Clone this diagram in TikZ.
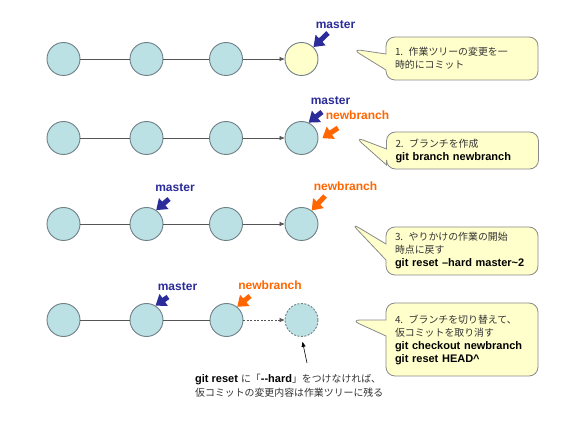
\documentclass[tikz,border=0pt]{standalone}
\usepackage{fontspec}
\setmainfont{Liberation Sans}
\newfontfamily\jp[Scale=0.9]{Noto Sans CJK JP}
\usetikzlibrary{arrows.meta, shapes.callouts}
\definecolor{commitfill}{HTML}{BCE1E4}
\definecolor{commitline}{HTML}{6E7F86}
\definecolor{tmpfill}{HTML}{FFFFCC}
\definecolor{linkgray}{HTML}{555555}
\definecolor{notefill}{HTML}{FFFFCC}
\definecolor{notegray}{HTML}{8A8A8A}
\definecolor{mastercol}{HTML}{2B2B99}
\definecolor{branchcol}{HTML}{FF6600}
\definecolor{jptext}{HTML}{333333}
\tikzset{
x=1pt, y=-1pt, % work in pixels of the reference, y down
commit/.style={circle, draw=commitline, fill=commitfill, line width=0.9pt, minimum size=33pt, inner sep=0pt}, % one commit
tmpcommit/.style={commit, fill=tmpfill}, % the temporary commit
gone/.style={commit, dash pattern=on 2pt off 1.5pt}, % commit that was reset away
link/.style={draw=linkgray, line width=0.8pt},
head/.style={link, -{Triangle[length=5pt,width=4pt]}},
reflabel/.style={font=\bfseries\fontsize{12}{14}\selectfont, inner sep=1pt},
master/.style={reflabel, text=mastercol},
branch/.style={reflabel, text=branchcol},
ptr/.style={line width=5pt, -{Triangle[length=10pt,width=14pt]}}, % fat arrow of a ref
note/.style={rectangle callout, draw=notegray, fill=notefill, rounded corners=9pt, line width=0.8pt,
  minimum width=152pt, text width=134pt, inner xsep=9pt, align=left,
  font=\fontsize{11}{13}\selectfont, callout pointer width=16pt},
}
\begin{document}
\begin{tikzpicture}
\path[use as bounding box, fill=white] (0,0) rectangle (566,425);

% row 1
\node[commit] (c11) at (63.5,59) {};
\node[commit] (c12) at (146.5,59) {};
\node[commit] (c13) at (226,59) {};
\node[tmpcommit] (c14) at (301.5,59) {};
\draw[link] (c11) -- (c12) -- (c13);
\draw[head] (c13) -- (c14);
\node[master] (m1) at (335.5,25) {master};
\coordinate (t1m) at (328,33);
\draw[ptr, mastercol] (t1m) -- (c14.45);
\coordinate (p1) at (352,49);
\node[note, minimum height=43pt, callout absolute pointer={(p1)}] (n1) at (462,58.5)
  {{\jp\color{jptext}1. 作業ツリーの変更を一}\\{\jp\color{jptext}時的にコミット}};

% row 2
\node[commit] (c21) at (63.5,138) {};
\node[commit] (c22) at (146.5,138) {};
\node[commit] (c23) at (226,138) {};
\node[commit] (c24) at (301.5,138) {};
\draw[link] (c21) -- (c22) -- (c23);
\draw[head] (c23) -- (c24);
\node[master] (m2) at (330.5,101) {master};
\node[branch] (b2) at (357.5,115) {newbranch};
\coordinate (t2m) at (322,112);
\coordinate (t2b) at (338,128);
\draw[ptr, mastercol] (t2m) -- (c24.65);
\draw[ptr, branchcol, shorten >=5pt] (t2b) -- (c24.-10);
\coordinate (p2) at (355,137);
\node[note, minimum height=37pt, callout absolute pointer={(p2)}] (n2) at (462.5,150.5)
  {{\jp\color{jptext}2. ブランチを作成}\\\textbf{git branch newbranch}};

% row 3
\node[commit] (c31) at (63.5,224) {};
\node[commit] (c32) at (146.5,224) {};
\node[commit] (c33) at (226,224) {};
\node[commit] (c34) at (301.5,224) {};
\draw[link] (c31) -- (c32) -- (c33);
\draw[head] (c33) -- (c34);
\node[master] (m3) at (175,188) {master};
\node[branch] (b3) at (345.5,186) {newbranch};
\coordinate (t3m) at (169,199);
\coordinate (t3b) at (325,196);
\draw[ptr, mastercol] (t3m) -- (c32.55);
\draw[ptr, branchcol] (t3b) -- (c34.53);
\coordinate (p3) at (351,223);
\node[note, minimum height=48pt, callout absolute pointer={(p3)}] (n3) at (462,251)
  {{\jp\color{jptext}3. やりかけの作業の開始}\\{\jp\color{jptext}時点に戻す}\\\mbox{\textbf{git reset --hard master\textasciitilde2}}};

% row 4
\node[commit] (c41) at (63.5,320) {};
\node[commit] (c42) at (146.5,320) {};
\node[commit] (c43) at (226.5,320) {};
\node[gone] (c44) at (301.5,320) {};
\draw[link] (c41) -- (c42) -- (c43);
\draw[head, dash pattern=on 2pt off 1.5pt] (c43) -- (c44);
\node[master] (m4) at (177.5,287) {master};
\node[branch] (b4) at (270,285) {newbranch};
\coordinate (t4m) at (168,297);
\coordinate (t4b) at (250,296);
\draw[ptr, mastercol] (t4m) -- (c42.58);
\draw[ptr, branchcol] (t4b) -- (c43.51);
\coordinate (p4) at (351,320);
\node[note, minimum height=73pt, callout absolute pointer={(p4)}] (n4) at (462,339.5)
  {{\jp\color{jptext}4. ブランチを切り替えて、}\\{\jp\color{jptext}仮コミットを取り消す}\\\textbf{git checkout newbranch}\\\textbf{git reset HEAD\textasciicircum}};

% hint below row 4
\node[anchor=west, align=left, inner sep=0pt, font=\fontsize{11}{14}\selectfont] (hint) at (195,386)
  {\textbf{git reset} {\jp\color{jptext}に「}\textbf{-\kern0pt-hard}{\jp\color{jptext}」をつけなければ、}\\{\jp\color{jptext}仮コミットの変更内容は作業ツリーに残る}};
\coordinate (up) at (307,363);
\draw[head, draw=black, line width=0.6pt, shorten >=5pt] (up) -- (c44.south);
\end{tikzpicture}
\end{document}
